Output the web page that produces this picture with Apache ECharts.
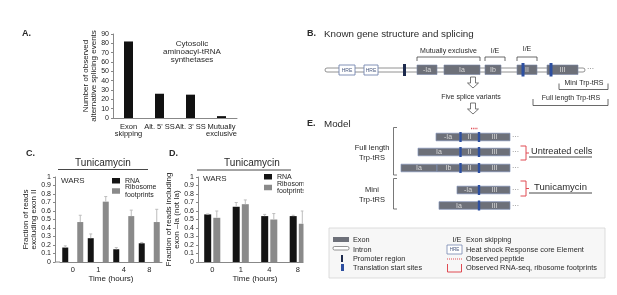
<!DOCTYPE html>
<html><head><meta charset="utf-8">
<script src="https://cdn.jsdelivr.net/npm/echarts@6/dist/echarts.min.js"></script>
<style>html,body{margin:0;padding:0;background:#fff}#c{width:617px;height:295px}</style>
</head><body><div id="c"></div>
<script>
// ---------- data ----------
const aCategories = ['Exon\nskipping', "Alt. 5' SS", "Alt. 3' SS", 'Mutually\nexclusive'];
const aCounts = [82, 26, 25, 2];
const timeLabels = ['0', '1', '4', '8'];
const cRna = [0.17, 0.28, 0.15, 0.22];
const cRnaErr = [0.02, 0.05, 0.02, 0.01];
const cRibo = [0.47, 0.71, 0.54, 0.47];
const cRiboErr = [0.08, 0.06, 0.07, 0.15];
const dRna = [0.56, 0.65, 0.54, 0.54];
const dRnaErr = [0.005, 0.05, 0.02, 0.01];
const dRibo = [0.52, 0.68, 0.50, 0.45];
const dRiboErr = [0.08, 0.05, 0.07, 0.15];

// ---------- diagram layout (schematic) ----------
const geneExons = [['-Ia', 417, 437], ['Ia', 444, 480], ['Ib', 485, 501], ['II', 517, 537], ['III', 547, 578]];
const geneStarts = [523, 551];
const geneHRE = [[339, 355], [364, 378]];
const geneBrackets = [['Mutually exclusive', 417, 480], ['I/E', 485, 505], ['I/E', 517, 537]];
const modelRowsY = [137, 152, 168, 190, 205.5];
const modelRows = [
  [['-Ia', 436, 460], ['II', 460, 479], ['III', 479, 510]],
  [['Ia', 418, 460], ['II', 460, 479], ['III', 479, 510]],
  [['Ia', 401, 437], ['Ib', 437, 460], ['II', 460, 479], ['III', 479, 510]],
  [['-Ia', 457, 479], ['III', 479, 510]],
  [['Ia', 439, 479], ['III', 479, 510]]
];
const modelStarts = [[460.5, 479], [460.5, 479], [460.5, 479], [479], [479]];

const FF = '"Liberation Sans", Arial, Helvetica, sans-serif';
const EXON = '#6d7079', BLUE = '#2d4fa0', RED = '#e04a52', NAVY = '#1d2a4d';
const G = [];
let zc = 60;
function rect(x, y, w, h, fill, stroke, lw, r, z) {
  G.push({type: 'rect', z: z || zc, shape: {x: x, y: y, width: w, height: h, r: r || 0},
    style: {fill: fill, stroke: stroke || null, lineWidth: lw || 0}});
}
function line(x1, y1, x2, y2, stroke, lw, dash) {
  G.push({type: 'line', z: zc + 1, shape: {x1: x1, y1: y1, x2: x2, y2: y2},
    style: {stroke: stroke, lineWidth: lw || 1, lineDash: dash || null}});
}
function pline(pts, stroke, lw) {
  G.push({type: 'polyline', z: zc + 1, shape: {points: pts}, style: {stroke: stroke, lineWidth: lw || 1, fill: null}});
}
function text(x, y, t, size, o) {
  G.push({type: 'text', z: zc + 2, x: x, y: y, style: Object.assign({text: t, fontSize: size, fontFamily: FF,
    fill: '#2a2a2a', align: 'left', verticalAlign: 'middle'}, o || {})});
}
function arrow(cx, top) {
  G.push({type: 'polygon', z: zc + 1, shape: {points: [[cx - 2.5, top], [cx + 2.5, top], [cx + 2.5, top + 6], [cx + 5.5, top + 6],
    [cx, top + 11], [cx - 5.5, top + 6], [cx - 2.5, top + 6]]}, style: {fill: '#fff', stroke: '#555', lineWidth: 0.8}});
}

// white mask (panel E image overlaps panel D)
rect(303.5, 165, 313.5, 130, '#fff', null, 0, 0, 50);

// Panel labels
text(22, 34, 'A.', 9, {fontWeight: 'bold'});
text(26, 154, 'C.', 9, {fontWeight: 'bold'});
text(169, 154, 'D.', 9, {fontWeight: 'bold'});
text(307, 34, 'B.', 9, {fontWeight: 'bold'});
text(324, 34, 'Known gene structure and splicing', 9.8);
text(307, 124, 'E.', 9, {fontWeight: 'bold'});
text(324, 124, 'Model', 9.8);

// Panel A annotation
text(192, 43.5, 'Cytosolic', 8, {align: 'center'});
text(192, 51.5, 'aminoacyl-tRNA', 8, {align: 'center'});
text(192, 59.5, 'synthetases', 8, {align: 'center'});

// Panels C / D headers
text(103, 163, 'Tunicamycin', 10, {align: 'center'});
line(58, 169.5, 148, 169.5, '#333', 0.9);
text(61, 180.5, 'WARS', 8);
text(252, 163, 'Tunicamycin', 10, {align: 'center'});
line(197, 170, 291, 170, '#333', 0.9);
text(203, 179, 'WARS', 8);

// ---- Panel B gene structure ----
rect(325, 68, 260, 4, '#fff', '#777', 0.8, 2);
geneHRE.forEach(h => {
  rect(h[0], 65, h[1] - h[0], 10, '#fff', '#7486b0', 0.9);
  text((h[0] + h[1]) / 2, 70.3, 'HRE', 5, {align: 'center', fill: '#4a5a80'});
});
rect(403, 64, 3, 12, NAVY);
geneExons.forEach(e => {
  rect(e[1], 65, e[2] - e[1], 9.5, EXON, '#7a86a6', 0.6);
  text((e[1] + e[2]) / 2, 70, e[0], 7, {align: 'center', fill: '#dcdcdc'});
});
geneStarts.forEach(x => rect(x - 1.5, 63, 3, 13.5, BLUE));
text(587, 69, '···', 7, {fill: '#777'});
geneBrackets.forEach((b, i) => {
  pline([[b[1], 61], [b[1], 57], [b[2], 57], [b[2], 61]], '#444', 0.8);
  text((b[1] + b[2]) / 2, i === 2 ? 49.5 : 51, b[0], 7, {align: 'center'});
});
arrow(473, 77);
text(471, 97, 'Five splice variants', 7, {align: 'center'});
arrow(473, 103);
pline([[559, 83.5], [559, 89.5], [608, 89.5], [608, 83.5]], '#444', 0.8);
text(584, 83, 'Mini Trp-tRS', 7, {align: 'center'});
pline([[533, 99], [533, 105.5], [608, 105.5], [608, 99]], '#444', 0.8);
text(571, 98, 'Full length Trp-tRS', 7, {align: 'center'});

// ---- Panel E model ----
modelRows.forEach((row, ri) => {
  const y = modelRowsY[ri];
  row.forEach(s => {
    rect(s[1], y - 3.8, s[2] - s[1], 7.6, EXON, '#8292b8', 0.7);
    text((s[1] + s[2]) / 2, y + 0.3, s[0], 7, {align: 'center', fill: '#dadada'});
  });
  modelStarts[ri].forEach(x => rect(x - 1.2, y - 5, 2.4, 10, BLUE));
  text(512, y + 0.5, '···', 7, {fill: '#888'});
});
line(471, 128.5, 478, 128.5, RED, 1.6, [1.2, 1]);
pline([[397, 127.5], [393.5, 127.5], [393.5, 175], [397, 175]], '#555', 0.8);
text(372, 148, 'Full length', 7.5, {align: 'center'});
text(372, 158, 'Trp-tRS', 7.5, {align: 'center'});
pline([[397, 178.5], [393.5, 178.5], [393.5, 209], [397, 209]], '#555', 0.8);
text(372, 190, 'Mini', 7.5, {align: 'center'});
text(372, 199.5, 'Trp-tRS', 7.5, {align: 'center'});
pline([[520.5, 146], [526, 146], [526, 160], [520.5, 160]], RED, 1);
line(526, 153, 529, 153, RED, 1);
text(531, 151.5, 'Untreated cells', 9.2);
line(529, 157, 592, 157, '#333', 0.9);
pline([[520.5, 181], [526, 181], [526, 196], [520.5, 196]], RED, 1);
line(526, 188.5, 529, 188.5, RED, 1);
text(534, 187, 'Tunicamycin', 9.5);
line(529, 193, 592, 193, '#333', 0.9);

// legend box
rect(329, 228, 276, 50, '#f7f7f7', '#d4d4d4', 0.8);
rect(333, 237, 16, 5, EXON);
text(353, 240, 'Exon', 7.3);
rect(333, 246.5, 16, 3.5, '#fff', '#666', 0.7, 1.5);
text(353, 249.5, 'Intron', 7.3);
rect(341, 255, 2, 7, NAVY);
text(353, 259, 'Promoter region', 7.3);
rect(341, 264, 3, 7, BLUE);
text(353, 268, 'Translation start sites', 7.3);
text(457, 240, 'I/E', 7.3, {align: 'center'});
text(466, 240, 'Exon skipping', 7.3);
rect(447, 245, 15, 9, '#fff', '#7486b0', 0.8);
text(454.5, 249.6, 'HRE', 4.6, {align: 'center', fill: '#4a5a80'});
text(466, 249.5, 'Heat shock Response core Element', 7.4);
line(447, 259, 462, 259, RED, 1.2, [1, 1]);
text(466, 259, 'Observed peptide', 7.4);
pline([[447.5, 264], [447.5, 272], [461.5, 272], [461.5, 264]], RED, 1);
text(466, 268, 'Observed RNA-seq, ribosome footprints', 7.4);

// x axis line extension for panel C (y axis is offset)
line(55, 262, 60, 262, '#888', 1);

function errSeries(axisIdx, vals, errs, offset) {
  return {
    type: 'custom', xAxisIndex: axisIdx, yAxisIndex: axisIdx, z: 3, silent: true,
    data: vals.map((v, i) => [i, v, v + errs[i]]),
    renderItem: function (params, api) {
      const p0 = api.coord([api.value(0), api.value(1)]);
      const p1 = api.coord([api.value(0), api.value(2)]);
      const x = p0[0] + offset;
      return {type: 'group', children: [
        {type: 'line', shape: {x1: x, y1: p0[1], x2: x, y2: p1[1]}, style: {stroke: '#bdbdbd', lineWidth: 1}},
        {type: 'line', shape: {x1: x - 1.5, y1: p1[1], x2: x + 1.5, y2: p1[1]}, style: {stroke: '#bdbdbd', lineWidth: 1}}
      ]};
    }
  };
}

const axisLineStyle = {lineStyle: {color: '#888', width: 1}};
function catAxis(grid, data, extra) {
  return Object.assign({
    gridIndex: grid, type: 'category', data: data,
    axisLine: axisLineStyle, axisTick: {show: false},
    axisLabel: {fontSize: 7.5, lineHeight: 7.5, color: '#222', margin: 4, interval: 0, fontFamily: FF}
  }, extra || {});
}
function valAxis(grid, min, max, interval, extra) {
  return Object.assign({
    gridIndex: grid, type: 'value', min: min, max: max, interval: interval,
    splitLine: {show: false},
    axisLine: Object.assign({show: true}, axisLineStyle),
    axisTick: {show: true, length: 2, lineStyle: {color: '#888'}},
    axisLabel: {fontSize: 7, color: '#222', margin: 4, fontFamily: FF},
    nameLocation: 'middle', nameTextStyle: {fontSize: 8, lineHeight: 7.5, color: '#222', fontFamily: FF}
  }, extra || {});
}
function legendItem(name, left, top) {
  return {data: [name], left: left, top: top, padding: 0, itemWidth: 8, itemHeight: 5.5, icon: 'rect',
    selectedMode: false, textStyle: {fontSize: 7, lineHeight: 7.5, color: '#222', fontFamily: FF}};
}

const chart = echarts.init(document.getElementById('c'), null, {renderer: 'canvas'});
chart.setOption({
  animation: false,
  backgroundColor: '#fff',
  textStyle: {fontFamily: FF},
  grid: [
    {left: 113, top: 34, width: 124, height: 84},
    {left: 60, top: 177, width: 102, height: 85},
    {left: 198, top: 177, width: 114, height: 85}
  ],
  xAxis: [
    catAxis(0, aCategories, {axisLabel: {fontSize: 7.5, lineHeight: 7.5, color: '#222', margin: 5, interval: 0, fontFamily: FF}}),
    catAxis(1, timeLabels, {name: 'Time (hours)', nameLocation: 'middle', nameGap: 13, nameTextStyle: {fontSize: 8, color: '#222', fontFamily: FF}}),
    catAxis(2, timeLabels, {name: 'Time (hours)', nameLocation: 'middle', nameGap: 13, nameTextStyle: {fontSize: 8, color: '#222', fontFamily: FF}})
  ],
  yAxis: [
    valAxis(0, 0, 90, 10, {name: 'Number of observed\nalternative splicing events', nameGap: 15}),
    valAxis(1, 0, 1, 0.1, {offset: 5, name: 'Fraction of reads\nexcluding exon II', nameGap: 12}),
    valAxis(2, 0, 1, 0.1, {name: 'Fraction of reads including\nexon \u2013Ia (not Ia)', nameGap: 16})
  ],
  legend: [
    legendItem('RNA', 112, 177),
    legendItem('Ribosome\nfootprints', 112, 183.5),
    legendItem('RNA', 264, 173),
    legendItem('Ribosome\nfootprints', 264, 180)
  ],
  series: [
    {type: 'bar', xAxisIndex: 0, yAxisIndex: 0, data: aCounts, barWidth: 9, itemStyle: {color: '#111'}},
    {type: 'bar', name: 'RNA', xAxisIndex: 1, yAxisIndex: 1, data: cRna, barWidth: 6, barGap: '150%', itemStyle: {color: '#141414'}},
    {type: 'bar', name: 'Ribosome\nfootprints', xAxisIndex: 1, yAxisIndex: 1, data: cRibo, barWidth: 6, barGap: '150%', itemStyle: {color: '#8a8a8a'}},
    {type: 'bar', name: 'RNA', xAxisIndex: 2, yAxisIndex: 2, data: dRna, barWidth: 7, barGap: '30%', itemStyle: {color: '#141414'}},
    {type: 'bar', name: 'Ribosome\nfootprints', xAxisIndex: 2, yAxisIndex: 2, data: dRibo, barWidth: 7, barGap: '30%', itemStyle: {color: '#8a8a8a'}},
    errSeries(1, cRna, cRnaErr, -7.5),
    errSeries(1, cRibo, cRiboErr, 7.5),
    errSeries(2, dRna, dRnaErr, -4.55),
    errSeries(2, dRibo, dRiboErr, 4.55)
  ],
  graphic: {elements: G}
});
</script>
</body></html>
